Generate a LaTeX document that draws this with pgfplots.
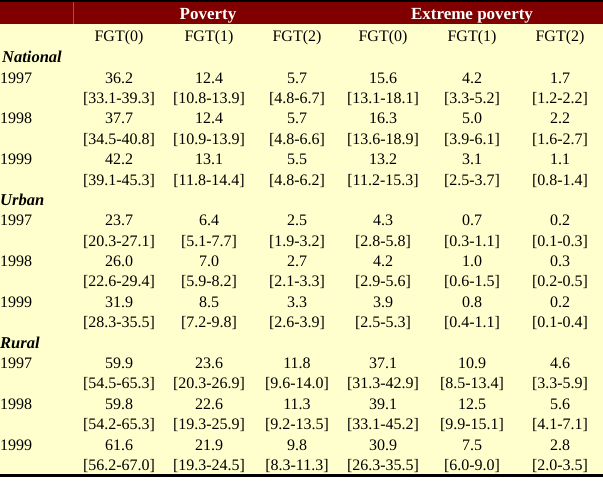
\documentclass[border=0pt]{standalone}
\usepackage{fontspec}
\setmainfont{Liberation Serif}
\usepackage{pgfplots}
\usepackage{pgfplotstable}
\pgfplotsset{compat=1.18}
\definecolor{bandred}{RGB}{128,0,0}
\definecolor{bandline}{RGB}{165,80,80}
\definecolor{paper}{RGB}{255,255,206}

% one line of the table per row, y = text baseline in pixels from the top
\pgfplotstableread[col sep=comma]{
y,c1,c2,c3,c4,c5,c6
83.3,36.2,12.4,5.7,15.6,4.2,1.7
103.7,[33.1-39.3],[10.8-13.9],[4.8-6.7],[13.1-18.1],[3.3-5.2],[1.2-2.2]
124.0,37.7,12.4,5.7,16.3,5.0,2.2
144.4,[34.5-40.8],[10.9-13.9],[4.8-6.6],[13.6-18.9],[3.9-6.1],[1.6-2.7]
164.8,42.2,13.1,5.5,13.2,3.1,1.1
185.2,[39.1-45.3],[11.8-14.4],[4.8-6.2],[11.2-15.3],[2.5-3.7],[0.8-1.4]
225.9,23.7,6.4,2.5,4.3,0.7,0.2
246.3,[20.3-27.1],[5.1-7.7],[1.9-3.2],[2.8-5.8],[0.3-1.1],[0.1-0.3]
266.6,26.0,7.0,2.7,4.2,1.0,0.3
287.0,[22.6-29.4],[5.9-8.2],[2.1-3.3],[2.9-5.6],[0.6-1.5],[0.2-0.5]
307.4,31.9,8.5,3.3,3.9,0.8,0.2
327.7,[28.3-35.5],[7.2-9.8],[2.6-3.9],[2.5-5.3],[0.4-1.1],[0.1-0.4]
368.5,59.9,23.6,11.8,37.1,10.9,4.6
388.9,[54.5-65.3],[20.3-26.9],[9.6-14.0],[31.3-42.9],[8.5-13.4],[3.3-5.9]
409.2,59.8,22.6,11.3,39.1,12.5,5.6
429.6,[54.2-65.3],[19.3-25.9],[9.2-13.5],[33.1-45.2],[9.9-15.1],[4.1-7.1]
450.0,61.6,21.9,9.8,30.9,7.5,2.8
470.3,[56.2-67.0],[19.3-24.5],[8.3-11.3],[26.3-35.5],[6.0-9.0],[2.0-3.5]
}\cells

\pgfplotstableread[col sep=comma]{
x,y,lab
208,20,Poverty
472,20,Extreme poverty
}\head

\pgfplotstableread[col sep=comma]{
x,y,lab
119,42,FGT(0)
209,42,FGT(1)
297,42,FGT(2)
383,42,FGT(0)
472,42,FGT(1)
560,42,FGT(2)
}\fgt

\pgfplotstableread[col sep=comma]{
x,y,lab
2,63,National
0,205.5,Urban
0,348.1,Rural
}\groups

\pgfplotstableread[col sep=comma]{
x,y,lab
0,83.3,1997
0,124.0,1998
0,164.8,1999
0,225.9,1997
0,266.6,1998
0,307.4,1999
0,368.5,1997
0,409.2,1998
0,450.0,1999
}\years

\pgfplotsset{
  txt/.style={only marks, mark=*, mark size=0pt, mark options={draw=none,fill=none},
    point meta=explicit symbolic, nodes near coords,
    nodes near coords style={anchor=base, inner sep=0pt, text=black,
      font=\fontsize{16}{19}\selectfont}},
}

\begin{document}
\begin{tikzpicture}
\begin{axis}[
  name=ax, width=603pt, height=481pt, scale only axis,
  xmin=0, xmax=603, ymin=0, ymax=481, y dir=reverse,
  hide axis, clip=false
]
% background, header band and rules
\fill[paper] (axis cs:0,24.5) rectangle (axis cs:603,474);
\fill[black] (axis cs:0,0) rectangle (axis cs:603,2.5);
\fill[bandred] (axis cs:0,2.5) rectangle (axis cs:603,24.5);
\draw[bandline,line width=0.6pt] (axis cs:73,2.5) -- (axis cs:73,24.5);
\fill[black] (axis cs:0,473.5) rectangle (axis cs:603,477);

\addplot[txt, nodes near coords style={text=white, font=\fontsize{17}{20}\selectfont\bfseries}]
  table[x=x, y=y, meta=lab]{\head};
\addplot[txt] table[x=x, y=y, meta=lab]{\fgt};
\addplot[txt, nodes near coords style={anchor=base west, font=\fontsize{16.5}{19}\selectfont\bfseries\itshape}]
  table[x=x, y=y, meta=lab]{\groups};
\addplot[txt, nodes near coords style={anchor=base west}] table[x=x, y=y, meta=lab]{\years};

\addplot[txt] table[x expr=119, y=y, meta=c1]{\cells};
\addplot[txt] table[x expr=209, y=y, meta=c2]{\cells};
\addplot[txt] table[x expr=297, y=y, meta=c3]{\cells};
\addplot[txt] table[x expr=383, y=y, meta=c4]{\cells};
\addplot[txt] table[x expr=472, y=y, meta=c5]{\cells};
\addplot[txt] table[x expr=560, y=y, meta=c6]{\cells};
\end{axis}
\pgfresetboundingbox
\useasboundingbox (ax.south west) rectangle (ax.north east);
\end{tikzpicture}
\end{document}
